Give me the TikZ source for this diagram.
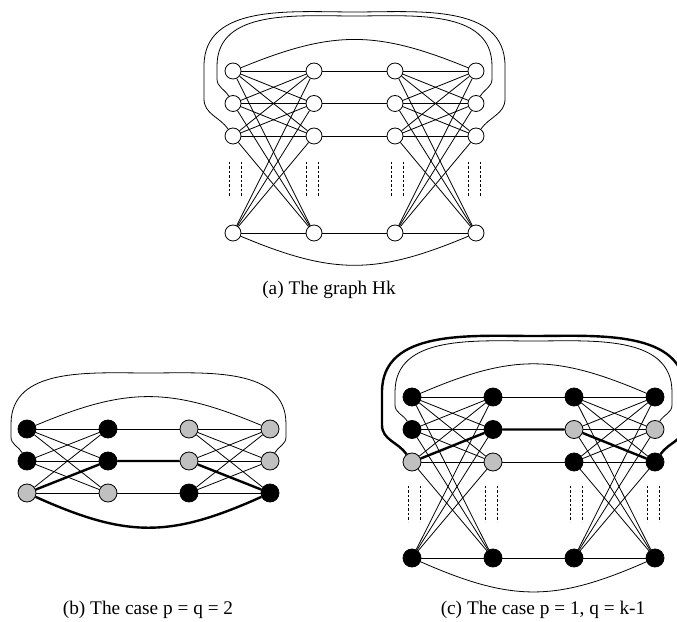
\documentclass[tikz,border=0pt]{standalone}
\usepackage{fontspec}
\setmainfont{Liberation Serif}
\definecolor{vtxgray}{RGB}{192,192,192}
\usepackage{tikz}
\usetikzlibrary{calc}

\begin{document}
\begin{tikzpicture}[x=1pt, y=1pt,
    vtx/.style={circle, draw, line width=0.8pt, inner sep=0pt, minimum size=16pt, fill=white},
    blk/.style={vtx, fill=black, minimum size=18pt},
    gry/.style={vtx, fill=vtxgray, minimum size=18pt},
    link/.style={line width=0.8pt},
    heavy/.style={line width=2.4pt},
    gap/.style={line width=0.8pt, dash pattern=on 2.5pt off 2pt},
    subcap/.style={font=\fontsize{19.3}{23}\selectfont, inner sep=0pt, anchor=base}]
\useasboundingbox (0,0) rectangle (677,621);

% (a) the graph
\begin{scope}[shift={(233,550)}]
    \foreach \r/\y in {1/0, 2/-32.5, 3/-65, k/-162} {
        \node[vtx] (aA\r) at (0,\y) {};
        \node[vtx] (aB\r) at (81,\y) {};
        \node[vtx] (aC\r) at (162,\y) {};
        \node[vtx] (aD\r) at (243,\y) {};
    }
    \foreach \i in {1,2,3,k} {
        \foreach \j in {1,2,3,k} {
            \draw[link] (aA\i) -- (aB\j);
            \draw[link] (aC\i) -- (aD\j);
        }
        \draw[link] (aB\i) -- (aC\i);
    }
    % arcs and loops
    \draw[link] (aA1) .. controls +(100,41) and +(-100,41) .. (aD1);
    \draw[link] (aAk) .. controls +(100,-42) and +(-100,-42) .. (aDk);
    \draw[link] (aA2) to[out=120,in=-90] (-16,-8) -- (-16,5) to[out=90,in=180] (121.5,55)
        to[out=0,in=90] (259,5) -- (259,-8) to[out=-90,in=60] (aD2);
    \draw[link] (aA3) to[out=125,in=-90] (-29,-28) -- (-29,5) to[out=90,in=180] (121.5,59)
        to[out=0,in=90] (272,5) -- (272,-28) to[out=-90,in=55] (aD3);
    % dots
    \foreach \x in {-4,8,73,85,158,170,235,247}
        \draw[gap] (\x,-91) -- (\x,-126);
\end{scope}
\node[subcap] (capA) at (329,326) {(a) The graph Hk};

% (b) p = q = 2
\begin{scope}[shift={(27,192)}]
    \foreach \r/\y/\fl/\fr in {1/0/blk/gry, 2/-32/blk/gry, 3/-64/gry/blk} {
        \node[\fl] (bA\r) at (0,\y) {};
        \node[\fl] (bB\r) at (81,\y) {};
        \node[\fr] (bC\r) at (162,\y) {};
        \node[\fr] (bD\r) at (243,\y) {};
    }
    \foreach \i in {1,2,3} {
        \foreach \j in {1,2,3} {
            \draw[link] (bA\i) -- (bB\j);
            \draw[link] (bC\i) -- (bD\j);
        }
        \draw[link] (bB\i) -- (bC\i);
    }
    \draw[link] (bA1) .. controls +(100,42) and +(-100,42) .. (bD1);
    \draw[link] (bA2) to[out=120,in=-90] (-16,-8) -- (-16,5) to[out=90,in=180] (121.5,56)
        to[out=0,in=90] (259,5) -- (259,-8) to[out=-90,in=60] (bD2);
    % heavy path
    \draw[heavy] (bA3) -- (bB2) -- (bC2) -- (bD3);
    \draw[heavy] (bA3) .. controls +(100,-45) and +(-100,-45) .. (bD3);
\end{scope}
\node[subcap] (capB) at (148,7) {(b) The case p = q = 2};

% (c) p = 1, q = k-1
\begin{scope}[shift={(412,224)}]
    \foreach \r/\y/\fl/\fr in {1/0/blk/blk, 2/-32.5/blk/gry, 3/-65/gry/blk, k/-161/blk/blk} {
        \node[\fl] (cA\r) at (0,\y) {};
        \node[\fl] (cB\r) at (81,\y) {};
        \node[\fr] (cC\r) at (162,\y) {};
        \node[\fr] (cD\r) at (243,\y) {};
    }
    \foreach \i in {1,2,3,k} {
        \foreach \j in {1,2,3,k} {
            \draw[link] (cA\i) -- (cB\j);
            \draw[link] (cC\i) -- (cD\j);
        }
        \draw[link] (cB\i) -- (cC\i);
    }
    \draw[link] (cA1) .. controls +(100,43) and +(-100,43) .. (cD1);
    \draw[link] (cAk) .. controls +(100,-44) and +(-100,-44) .. (cDk);
    \draw[link] (cA2) to[out=120,in=-90] (-17,-8) -- (-17,5) to[out=90,in=180] (121.5,56)
        to[out=0,in=90] (260,5) -- (260,-8) to[out=-90,in=60] (cD2);
    % heavy path
    \draw[heavy] (cA3) -- (cB2) -- (cC2) -- (cD3);
    \draw[heavy] (cA3) to[out=125,in=-90] (-30,-28) -- (-30,5) to[out=90,in=180] (121.5,61)
        to[out=0,in=90] (273,5) -- (273,-28) to[out=-90,in=55] (cD3);
    \foreach \x in {-4,8,73,85,158,170,235,247}
        \draw[gap] (\x,-89) -- (\x,-125);
\end{scope}
\node[subcap] (capC) at (543,7) {(c) The case p = 1, q = k-1};
\end{tikzpicture}
\end{document}
